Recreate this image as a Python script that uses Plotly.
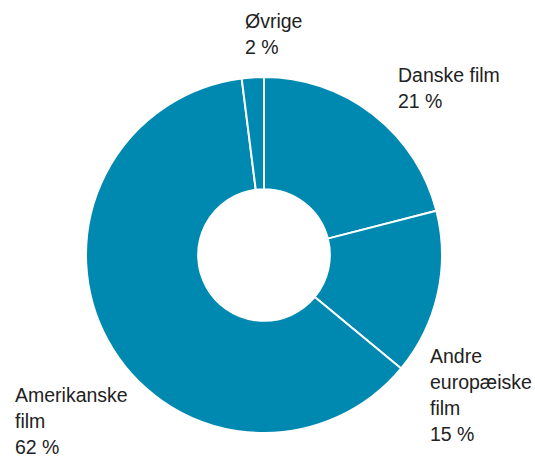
import plotly.graph_objects as go

categories = ["Danske film", "Andre europæiske film", "Amerikanske film", "Øvrige"]
values = [21, 15, 62, 2]
label_lines = [
    ["Danske film", "21 %"],
    ["Andre", "europæiske", "film", "15 %"],
    ["Amerikanske", "film", "62 %"],
    ["Øvrige", "2 %"],
]

W, H = 535, 457
cx, cy, r = 264, 255, 178

fig = go.Figure(go.Pie(
    labels=categories,
    values=values,
    hole=0.37,
    sort=False,
    direction="clockwise",
    rotation=0,
    textinfo="none",
    hoverinfo="label+percent",
    marker=dict(colors=["#0089B0"] * 4, line=dict(color="white", width=2)),
    domain=dict(x=[(cx - r) / W, (cx + r) / W], y=[(H - cy - r) / H, (H - cy + r) / H]),
    showlegend=False,
))

# label placement (left x, first line center y, line spacing) in pixels
label_pos = [(397, 75, 26), (429, 356, 26), (14, 395, 26), (244, 21, 26)]

annotations = []
for lines, (lx, ly, dy) in zip(label_lines, label_pos):
    for i, t in enumerate(lines):
        annotations.append(dict(
            text=t, x=lx / W, y=1 - (ly + i * dy) / H, xref="paper", yref="paper",
            xanchor="left", yanchor="middle", showarrow=False, borderpad=0,
            font=dict(family="Liberation Sans, Arial, sans-serif", size=19.5, color="#222222"),
        ))

fig.update_layout(
    width=W, height=H,
    margin=dict(l=0, r=0, t=0, b=0),
    paper_bgcolor="white", plot_bgcolor="white",
    annotations=annotations,
)

fig.write_html(
    "out.html",
    config={"displayModeBar": False},
    post_script="document.body.style.margin='0';document.body.style.overflow='hidden';",
)
